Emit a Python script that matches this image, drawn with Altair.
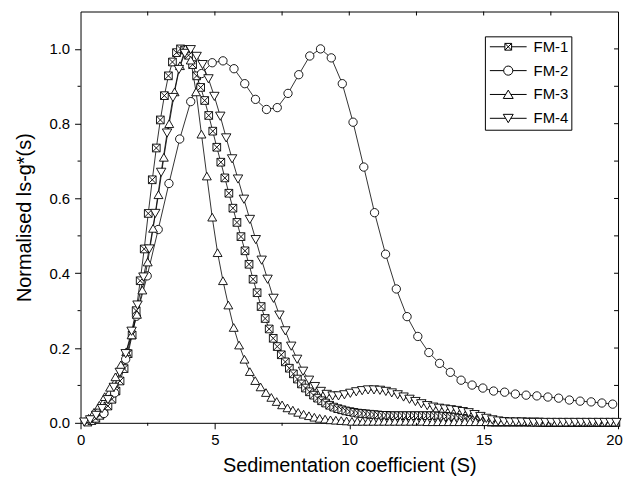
import altair as alt
import pandas as pd

SERIES = ["FM-1", "FM-2", "FM-3", "FM-4"]

FM1_S = [0.27, 0.42, 0.57, 0.72, 0.87, 1.02, 1.17, 1.32, 1.47, 1.62,
         1.77, 1.92, 2.07, 2.22, 2.37, 2.52, 2.67, 2.82, 2.97, 3.12,
         3.27, 3.42, 3.57, 3.72, 3.87, 4.02, 4.17, 4.32, 4.47, 4.62,
         4.77, 4.92, 5.07, 5.22, 5.37, 5.52, 5.67, 5.82, 5.97, 6.12,
         6.27, 6.42, 6.57, 6.72, 6.87, 7.02, 7.17, 7.32, 7.47, 7.62,
         7.77, 7.92, 8.07, 8.22, 8.37, 8.52, 8.67, 8.82, 8.97, 9.12,
         9.27, 9.42, 9.57, 9.72, 9.87, 10.02, 10.17, 10.32, 10.47, 10.62,
         10.77, 10.92, 11.07, 11.22, 11.37, 11.52, 11.67, 11.82, 11.97, 12.12,
         12.27, 12.42, 12.57, 12.72, 12.87, 13.02, 13.17, 13.32, 13.47, 13.62,
         13.77, 13.92, 14.07, 14.22, 14.37, 14.52, 14.67, 14.82, 14.97, 15.12,
         15.27, 15.42, 15.57, 15.72, 15.87, 16.02, 16.17, 16.32, 16.47, 16.62,
         16.77, 16.92, 17.07, 17.22, 17.37, 17.52, 17.67, 17.82, 17.97, 18.12,
         18.27, 18.42, 18.57, 18.72, 18.87, 19.02, 19.17, 19.32, 19.47, 19.62,
         19.77, 19.92]
FM1_G = [0.002, 0.006, 0.012, 0.020, 0.031, 0.045, 0.063, 0.085, 0.112, 0.145,
         0.185, 0.235, 0.300, 0.380, 0.465, 0.560, 0.650, 0.735, 0.810, 0.875,
         0.928, 0.965, 0.990, 1.000, 0.997, 0.983, 0.958, 0.928, 0.897, 0.862,
         0.822, 0.780, 0.737, 0.697, 0.655, 0.614, 0.574, 0.536, 0.498, 0.460,
         0.424, 0.384, 0.348, 0.311, 0.279, 0.251, 0.226, 0.204, 0.182, 0.163,
         0.146, 0.131, 0.117, 0.104, 0.093, 0.083, 0.074, 0.066, 0.059, 0.053,
         0.047, 0.042, 0.038, 0.035, 0.032, 0.030, 0.028, 0.026, 0.025, 0.024,
         0.023, 0.022, 0.021, 0.020, 0.020, 0.019, 0.019, 0.019, 0.019, 0.019,
         0.019, 0.019, 0.019, 0.019, 0.019, 0.019, 0.019, 0.018, 0.018, 0.017,
         0.016, 0.015, 0.013, 0.012, 0.010, 0.008, 0.006, 0.005, 0.004, 0.003,
         0.002, 0.002, 0.002, 0.002, 0.002, 0.002, 0.002, 0.002, 0.002, 0.002,
         0.002, 0.002, 0.002, 0.001, 0.001, 0.001, 0.001, 0.001, 0.001, 0.001,
         0.001, 0.001, 0.001, 0.001, 0.001, 0.001, 0.001, 0.001, 0.001, 0.001,
         0.001, 0.001]

FM2_S = [0.87, 1.27, 1.68, 2.08, 2.48, 2.89, 3.29, 3.69, 4.10, 4.50,
         4.90, 5.30, 5.71, 6.11, 6.51, 6.92, 7.32, 7.72, 8.12, 8.53,
         8.93, 9.33, 9.74, 10.14, 10.54, 10.94, 11.35, 11.75, 12.15, 12.55,
         12.96, 13.36, 13.76, 14.16, 14.57, 14.97, 15.37, 15.78, 16.18, 16.58,
         16.98, 17.39, 17.79, 18.19, 18.59, 19.00, 19.40, 19.80]
FM2_G = [0.025, 0.080, 0.170, 0.285, 0.393, 0.517, 0.640, 0.759, 0.859, 0.934,
         0.963, 0.968, 0.947, 0.907, 0.865, 0.838, 0.843, 0.881, 0.931, 0.981,
         1.000, 0.976, 0.907, 0.804, 0.684, 0.562, 0.451, 0.358, 0.284, 0.231,
         0.188, 0.159, 0.135, 0.114, 0.101, 0.093, 0.085, 0.082, 0.077, 0.074,
         0.072, 0.069, 0.066, 0.061, 0.058, 0.056, 0.053, 0.050]

FM3_S = [0.3, 0.5, 0.7, 0.9, 1.1, 1.3, 1.5, 1.7, 1.9, 2.1,
         2.3, 2.5, 2.7, 2.9, 3.1, 3.3, 3.5, 3.7, 3.9, 4.1,
         4.3, 4.5, 4.7, 4.9, 5.1, 5.3, 5.5, 5.7, 5.9, 6.1,
         6.3, 6.5, 6.7, 6.9, 7.1, 7.3, 7.5, 7.7, 7.9, 8.1,
         8.3, 8.5, 8.7, 8.9, 9.1, 9.3, 9.5, 9.7, 9.9, 10.1,
         10.3, 10.5, 10.7, 10.9, 11.1, 11.3, 11.5, 11.7, 11.9, 12.1,
         12.3, 12.5, 12.7, 12.9, 13.1, 13.3, 13.5, 13.7, 13.9, 14.1,
         14.3, 14.5, 14.7, 14.9, 15.1, 15.3, 15.5, 15.7, 15.9, 16.1,
         16.3, 16.5, 16.7, 16.9, 17.1, 17.3, 17.5, 17.7, 17.9, 18.1,
         18.3, 18.5, 18.7, 18.9, 19.1, 19.3, 19.5, 19.7, 19.9]
FM3_G = [0.012, 0.028, 0.047, 0.070, 0.095, 0.123, 0.155, 0.190, 0.235, 0.290,
         0.355, 0.430, 0.520, 0.610, 0.710, 0.800, 0.885, 0.955, 1.000, 0.970,
         0.885, 0.772, 0.660, 0.550, 0.455, 0.380, 0.315, 0.255, 0.208, 0.170,
         0.137, 0.113, 0.096, 0.081, 0.068, 0.057, 0.048, 0.040, 0.034, 0.028,
         0.023, 0.019, 0.015, 0.012, 0.010, 0.008, 0.007, 0.006, 0.005, 0.004,
         0.004, 0.004, 0.004, 0.004, 0.004, 0.004, 0.004, 0.004, 0.004, 0.004,
         0.004, 0.004, 0.004, 0.003, 0.003, 0.003, 0.003, 0.003, 0.003, 0.003,
         0.003, 0.003, 0.003, 0.003, 0.003, 0.003, 0.003, 0.003, 0.003, 0.003,
         0.003, 0.003, 0.003, 0.002, 0.002, 0.002, 0.002, 0.002, 0.002, 0.002,
         0.002, 0.002, 0.002, 0.002, 0.002, 0.002, 0.002, 0.002, 0.002]

FM4_S = [0.14, 0.36, 0.58, 0.80, 1.02, 1.24, 1.46, 1.68, 1.90, 2.12,
         2.34, 2.56, 2.78, 3.00, 3.22, 3.44, 3.66, 3.88, 4.10, 4.32,
         4.54, 4.76, 4.98, 5.20, 5.42, 5.64, 5.86, 6.08, 6.30, 6.52,
         6.74, 6.96, 7.18, 7.40, 7.62, 7.84, 8.06, 8.28, 8.50, 8.72,
         8.94, 9.16, 9.38, 9.60, 9.82, 10.04, 10.26, 10.48, 10.70, 10.92,
         11.14, 11.36, 11.58, 11.80, 12.02, 12.24, 12.46, 12.68, 12.90, 13.12,
         13.34, 13.56, 13.78, 14.00, 14.22, 14.44, 14.66, 14.88, 15.10, 15.32,
         15.54, 15.76, 15.98, 16.20, 16.42, 16.64, 16.86, 17.08, 17.30, 17.52,
         17.74, 17.96, 18.18, 18.40, 18.62, 18.84, 19.06, 19.28, 19.50, 19.72,
         19.94]
FM4_G = [0.002, 0.008, 0.020, 0.038, 0.062, 0.095, 0.135, 0.185, 0.245, 0.315,
         0.390, 0.465, 0.560, 0.670, 0.775, 0.870, 0.945, 0.988, 0.998, 0.980,
         0.958, 0.920, 0.873, 0.820, 0.762, 0.706, 0.652, 0.598, 0.544, 0.490,
         0.435, 0.384, 0.333, 0.288, 0.246, 0.205, 0.170, 0.138, 0.114, 0.097,
         0.084, 0.076, 0.072, 0.072, 0.075, 0.079, 0.083, 0.086, 0.088, 0.088,
         0.087, 0.084, 0.080, 0.075, 0.069, 0.063, 0.057, 0.051, 0.046, 0.042,
         0.039, 0.037, 0.035, 0.033, 0.030, 0.027, 0.022, 0.017, 0.012, 0.008,
         0.005, 0.003, 0.002, 0.002, 0.002, 0.001, 0.001, 0.001, 0.001, 0.001,
         0.001, 0.001, 0.001, 0.001, 0.001, 0.001, 0.001, 0.001, 0.001, 0.001,
         0.001]

X_TICKS = [0, 5, 10, 15, 20]
X_MINOR = [2.5, 7.5, 12.5, 17.5]
X_TOP = [2.5, 5, 7.5, 10, 12.5, 15, 17.5]
Y_TICKS = [0.0, 0.2, 0.4, 0.6, 0.8, 1.0]
Y_MINOR = [0.1, 0.3, 0.5, 0.7, 0.9]
Y_RIGHT = [0.1, 0.2, 0.3, 0.4, 0.5, 0.6, 0.7, 0.8, 0.9, 1.0]

rows = []
for name, xs, ys in [("FM-1", FM1_S, FM1_G), ("FM-2", FM2_S, FM2_G),
                     ("FM-3", FM3_S, FM3_G), ("FM-4", FM4_S, FM4_G)]:
    for xv, yv in zip(xs, ys):
        rows.append({"series": name, "s": xv, "g": yv})
df = pd.DataFrame(rows)

W, H = 541, 414
XS = alt.Scale(domain=[0, 20], nice=False, zero=False)
YS = alt.Scale(domain=[0, 1.1], nice=False, zero=False)

SQX = "M-1,-1L1,-1L1,1L-1,1ZM-1,-1L1,1M1,-1L-1,1"
LEG_PATHS = [
    "M-1.375,0L2.4,0M4.1,0L7.875,0M2.4,-0.85L4.1,-0.85L4.1,0.85L2.4,0.85ZM2.4,-0.85L4.1,0.85M4.1,-0.85L2.4,0.85",
    "M-1.375,0L2.1,0M4.4,0L7.875,0M2.1,0A1.15,1.15,0,1,0,4.4,0A1.15,1.15,0,1,0,2.1,0",
    "M-1.375,0L2.6,0M3.9,0L7.875,0M3.25,-1.1L4.5,1L2,1Z",
    "M-1.375,0L2.6,0M3.9,0L7.875,0M2,-1L4.5,-1L3.25,1.1Z",
]

base = alt.Chart(df)

lines = base.mark_line(color="black", strokeWidth=0.8).encode(
    x=alt.X("s:Q", scale=XS, axis=alt.Axis(values=X_TICKS, format="d", labelFlush=False,
                                             labelOffset={"condition": {"test": "datum.value == 20", "value": -4}, "value": 0},
                                             title="Sedimentation coefficient (S)",
                                             tickSize=6, labelPadding=4, titlePadding=8)),
    y=alt.Y("g:Q", scale=YS, axis=alt.Axis(values=Y_TICKS, format=".1f", labelFlush=False,
                                             title="Normalised ls-g*(s)",
                                             tickSize=6, labelPadding=5, titlePadding=14)),
    detail="series:N",
)

points = base.mark_point(filled=True, fill="white", stroke="black", strokeWidth=0.9, opacity=1).encode(
    x=alt.X("s:Q", scale=XS),
    y=alt.Y("g:Q", scale=YS),
    shape=alt.Shape("series:N", scale=alt.Scale(domain=SERIES, range=[SQX, "circle", "triangle-up", "triangle-down"]), legend=None),
    size=alt.Size("series:O", scale=alt.Scale(domain=SERIES, range=[60, 90, 100, 100]), legend=None),
)

# minor / mirrored tick marks placed through the same scales
y_minor_df = pd.DataFrame({"v": Y_MINOR})
y_right_df = pd.DataFrame({"v": Y_RIGHT})
x_minor_df = pd.DataFrame({"v": X_MINOR})
x_top_df = pd.DataFrame({"v": X_TOP})

y_minor = alt.Chart(y_minor_df).mark_rule(color="black", strokeWidth=1).encode(
    y=alt.Y("v:Q", scale=YS), x=alt.value(-3), x2=alt.value(0))
y_right = alt.Chart(y_right_df).mark_rule(color="black", strokeWidth=1).encode(
    y=alt.Y("v:Q", scale=YS), x=alt.value(W - 4), x2=alt.value(W))
x_minor = alt.Chart(x_minor_df).mark_rule(color="black", strokeWidth=1).encode(
    x=alt.X("v:Q", scale=XS), y=alt.value(H), y2=alt.value(H + 3))
x_top = alt.Chart(x_top_df).mark_rule(color="black", strokeWidth=1).encode(
    x=alt.X("v:Q", scale=XS), y=alt.value(0), y2=alt.value(4))

legend_df = pd.DataFrame({"series": SERIES})
legend_layer = alt.Chart(legend_df).transform_filter("false").mark_point(
    filled=False, fill="white", stroke="black", strokeWidth=1, size=64, opacity=1
).encode(
    shape=alt.Shape("series:N", scale=alt.Scale(domain=SERIES, range=LEG_PATHS),
                    legend=alt.Legend(title=None, orient="none", legendX=407, legendY=25,
                                      symbolSize=64, symbolStrokeWidth=1,
                                      labelFontSize=15, labelFont="Liberation Sans",
                                      labelColor="black", labelOffset=31, padding=3, rowPadding=8,
                                      strokeColor="black", fillColor="white", cornerRadius=0)),
)

chart = alt.layer(lines, points, y_minor, y_right, x_minor, x_top, legend_layer).resolve_scale(
    shape="independent"
).properties(
    width=W, height=H,
    padding={"left": 73, "top": 2, "right": 5, "bottom": 54},
    autosize=alt.AutoSizeParams(type="none"),
).configure_view(
    stroke="black", strokeWidth=1
).configure_axis(
    grid=False, domain=False, tickColor="black", tickWidth=1,
    labelFont="Liberation Sans", labelFontSize=15, labelColor="black",
    titleFont="Liberation Sans", titleFontSize=20, titleFontWeight="normal", titleColor="black",
)

chart.save("out.html", embed_options={"renderer": "svg", "actions": False})
